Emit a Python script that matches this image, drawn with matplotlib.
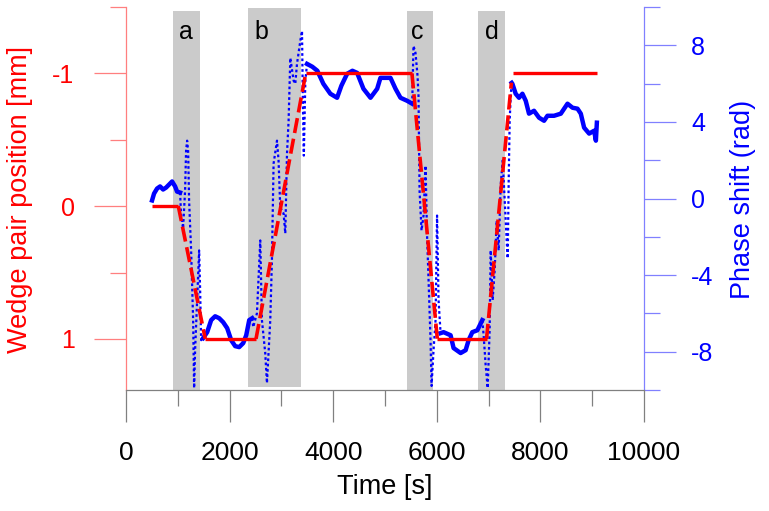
import matplotlib
matplotlib.use("Agg")
import matplotlib.pyplot as plt
from matplotlib.ticker import MultipleLocator, FixedLocator

plt.rcParams['font.family'] = ['Liberation Sans', 'DejaVu Sans']

# ---------------- data ----------------
# wedge pair position (left axis, mm) : set-point plateaus and ramps
flat_t = [[500, 1010], [1530, 2510], [3470, 5520], [6010, 6960], [7470, 9090]]
flat_pos = [0, 1, -1, 1, -1]
ramp_t = [[1010, 1530], [2510, 3470], [5520, 6010], [6960, 7440]]
ramp_pos = [[0, 1], [1, -1], [-1, 1], [1, -0.93]]

# phase shift (right axis, rad) : quasi-static plateaus
p0_t = [503, 542, 600, 658, 716, 774, 832, 890, 948, 986, 1044]
p0_phase = [-0.10, 0.26, 0.52, 0.63, 0.47, 0.57, 0.73, 0.89, 0.63, 0.36, 0.31]
p1_t = [1489, 1567, 1644, 1721, 1799, 1876, 1953, 2031, 2108, 2185, 2263, 2321, 2379, 2437]
p1_phase = [-7.29, -6.98, -6.35, -6.15, -6.25, -6.46, -6.77, -7.40, -7.71, -7.76, -7.55, -7.14, -6.35, -6.25]
p2_t = [3495, 3597, 3694, 3810, 3945, 4075, 4158, 4268, 4371, 4462, 4584, 4720, 4849, 4912,
        5106, 5203, 5299, 5429, 5525]
p2_phase = [7.03, 6.88, 6.67, 5.99, 5.47, 5.26, 5.89, 6.51, 6.67, 6.56, 5.73, 5.26, 5.73, 6.30,
            6.30, 5.73, 5.26, 5.10, 4.95]
p3_t = [6073, 6131, 6266, 6324, 6460, 6557, 6614, 6686, 6783, 6879]
p3_phase = [-7.03, -6.98, -7.14, -7.81, -8.07, -7.92, -7.40, -6.98, -6.88, -6.35]
p4_t = [7446, 7459, 7523, 7587, 7653, 7717, 7780, 7877, 7974, 8071, 8136, 8264, 8394, 8523,
        8620, 8716, 8780, 8844, 8941, 9038, 9071, 9090]
p4_phase = [6.04, 5.99, 5.47, 5.26, 5.47, 5.10, 4.43, 4.58, 4.22, 4.06, 4.32, 4.32, 4.43, 4.95,
            4.74, 4.69, 4.43, 3.70, 3.39, 3.54, 3.02, 3.96]

# phase shift during the wedge movements (fast, sparse samples)
ta_t = [1044, 1064, 1102, 1141, 1160, 1180, 1199, 1218, 1257, 1296, 1315, 1334, 1373, 1412, 1431,
        1451, 1489]
ta_phase = [0.31, -0.89, -1.56, 0.42, 2.5, 3.02, 2.5, -0.10, -2.71, -6.35, -9.9, -7.92, -5.31,
            -2.71, -4.79, -7.40, -7.29]
tb_t = [2437, 2456, 2528, 2592, 2624, 2688, 2721, 2785, 2817, 2849, 2915, 2945, 2978, 3042, 3075,
        3108, 3139, 3172, 3236, 3268, 3301, 3365, 3398, 3414, 3433, 3462, 3495]
tb_phase = [-6.25, -6.72, -5.99, -2.19, -6.35, -8.07, -9.64, -6.35, -3.23, 1.82, 3.02, 1.98, -0.47,
            -0.78, -1.82, 2.34, 4.06, 7.34, 6.15, 5.99, 7.03, 8.23, 8.75, 5.10, 2.24, 6.15, 7.03]
tc_t = [5525, 5550, 5589, 5628, 5647, 5667, 5705, 5744, 5783, 5812, 5841, 5879, 5899, 5937, 5976,
        6005, 6034, 6073]
tc_phase = [4.95, 7.97, 7.60, 6.41, 5.36, 0.42, -1.67, -0.89, 1.72, -1.93, -4.27, -7.40, -9.79,
            -7.92, -6.35, -0.89, -5.31, -7.03]
td_t = [6879, 6904, 6943, 6982, 7020, 7040, 7078, 7117, 7156, 7194, 7233, 7272, 7311, 7349, 7369,
        7388, 7407, 7427, 7446]
td_phase = [-6.35, -7.14, -8.70, -9.90, -6.88, -2.71, -5.31, -3.75, -1.15, -2.71, 0.68, 1.98,
            -0.10, -2.19, -3.13, 0.94, 4.06, 5.36, 6.04]

# shaded movement windows and their labels
span_t = [[915, 1420], [2354, 3379], [5416, 5925], [6803, 7311]]
span_names = ['a', 'b', 'c', 'd']
span_label_t = [1160, 2611, 5622, 7054]

x_major = [0, 2000, 4000, 6000, 8000, 10000]
left_major = [-1, 0, 1]
right_major = [-8, -4, 0, 4, 8]

# ---------------- figure ----------------
W, H = 769, 511
fig = plt.figure(figsize=(W / 100, H / 100), dpi=100)
ax = fig.add_axes([126 / W, 1 - 390 / H, (644 - 126) / W, (390 - 7) / H])
ax2 = ax.twinx()
ax.set_zorder(ax2.get_zorder() + 1)
ax.patch.set_visible(False)

red_sp = '#ff7f7f'
blue_sp = '#8080ff'
grey_sp = '#808080'

# shaded spans (behind everything, on the back axes)
span_y = [(0.0, 0.99), (0.008, 0.997), (0.0, 0.99), (0.0, 0.99)]
for (t0, t1), (y0, y1) in zip(span_t, span_y):
    ax2.axvspan(t0, t1, ymin=y0, ymax=y1, color='#cbcbcb', lw=0, zorder=0)
for name, tl in zip(span_names, span_label_t):
    ax2.text(tl, 0.935, name, transform=ax2.get_xaxis_transform(), ha='center', va='center',
             fontsize=18, color='black', zorder=1)

# blue phase trace
for tt, pp in [(ta_t, ta_phase), (tb_t, tb_phase), (tc_t, tc_phase), (td_t, td_phase)]:
    ax2.plot(tt, pp, color='blue', lw=1.6, ls=(0, (1.2, 1.2)), zorder=2)
for tt, pp in [(p0_t, p0_phase), (p1_t, p1_phase), (p2_t, p2_phase), (p3_t, p3_phase),
               (p4_t, p4_phase)]:
    ax2.plot(tt, pp, color='blue', lw=3.2, solid_joinstyle='round', zorder=3)

# red wedge position
for (t0, t1), p in zip(flat_t, flat_pos):
    ax.plot([t0, t1], [p, p], color='red', lw=2.4, solid_capstyle='butt', zorder=4)
for (t0, t1), (p0, p1) in zip(ramp_t, ramp_pos):
    ax.plot([t0, t1], [p0, p1], color='red', lw=2.6, ls=(0, (4.2, 1.6)), zorder=4)

# ---------------- axes styling ----------------
ax.set_xlim(0, 10000)
ax.set_ylim(1.385, -1.5)
ax2.set_ylim(-10, 10)

for s in ['top', 'right']:
    ax.spines[s].set_visible(False)
for s in ['top', 'left', 'bottom']:
    ax2.spines[s].set_visible(False)
ax.spines['left'].set_color(red_sp)
ax.spines['bottom'].set_color(grey_sp)
ax2.spines['right'].set_color(blue_sp)
for sp in [ax.spines['left'], ax.spines['bottom'], ax2.spines['right']]:
    sp.set_linewidth(0.9)

ax.xaxis.set_major_locator(FixedLocator(x_major))
ax.xaxis.set_minor_locator(MultipleLocator(1000))
ax.set_xticklabels([str(v) for v in x_major])
ax.tick_params(axis='x', which='major', length=23, width=0.9, color=grey_sp, labelsize=19,
               pad=14, labelcolor='black')
ax.tick_params(axis='x', which='minor', length=11.5, width=0.9, color=grey_sp)

ax.yaxis.set_major_locator(FixedLocator(left_major))
ax.yaxis.set_minor_locator(FixedLocator([-1.5, -0.5, 0.5]))
ax.set_yticklabels([str(v) for v in left_major])
ax.tick_params(axis='y', which='major', length=23, width=0.9, color=red_sp, labelsize=18,
               pad=14, labelcolor='red')
ax.tick_params(axis='y', which='minor', length=11.5, width=0.9, color=red_sp)

ax2.yaxis.set_major_locator(FixedLocator(right_major))
ax2.yaxis.set_minor_locator(FixedLocator([-10, -6, -2, 2, 6, 10]))
ax2.set_yticklabels([str(v) for v in right_major])
ax2.tick_params(axis='y', which='major', length=23, width=0.9, color=blue_sp, labelsize=18,
                pad=11, labelcolor='blue')
ax2.tick_params(axis='y', which='minor', length=11.5, width=0.9, color=blue_sp)

fig.text(20 / W, 1 - 199 / H, 'Wedge pair position [mm]', rotation=90, ha='center', va='center',
         fontsize=19.5, color='red')
fig.text(743 / W, 1 - 199 / H, 'Phase shift (rad)', rotation=90, ha='center', va='center',
         fontsize=19.5, color='blue')
fig.text(385 / W, 1 - 487 / H, 'Time [s]', ha='center', va='center', fontsize=19.5,
         color='black')

fig.savefig('out.png', dpi=100)
